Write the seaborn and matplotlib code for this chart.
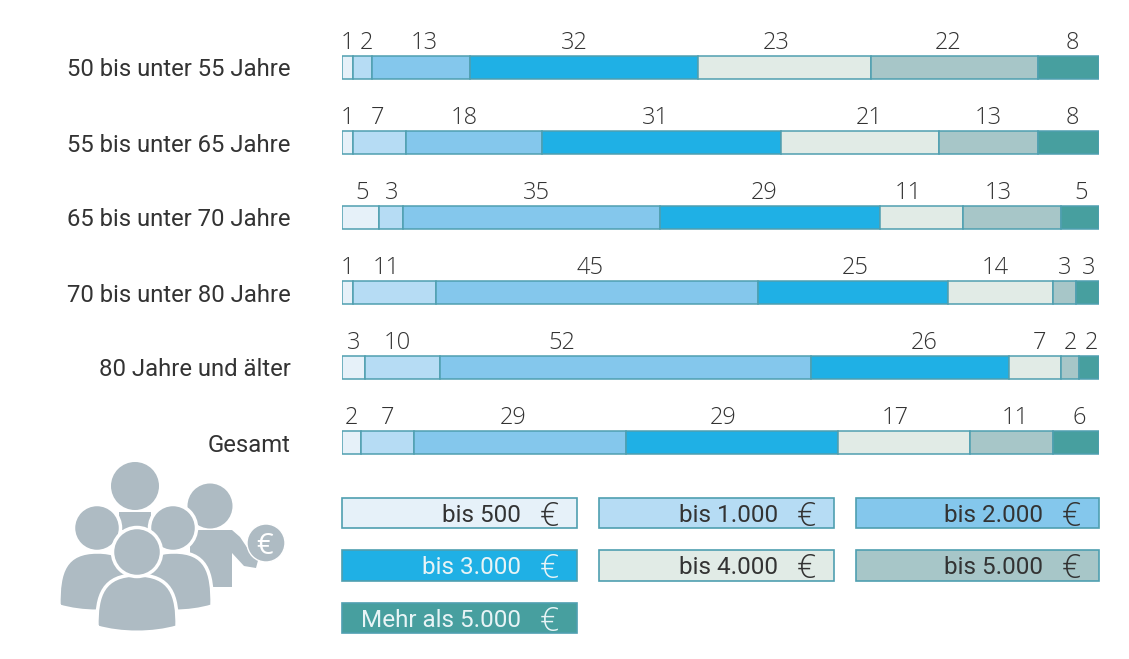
#!/usr/bin/python

import matplotlib
matplotlib.use("Agg")
from matplotlib import pyplot as plt
from matplotlib.patches import Circle, PathPatch, Rectangle, Polygon
from matplotlib.path import Path
import pandas as pd
import seaborn as sns

OUTFILE = "out.png"

groups = ["50 bis unter 55 Jahre", "55 bis unter 65 Jahre", "65 bis unter 70 Jahre",
          "70 bis unter 80 Jahre", "80 Jahre und älter", "Gesamt"]
classes = ["bis 500", "bis 1.000", "bis 2.000", "bis 3.000", "bis 4.000", "bis 5.000", "Mehr als 5.000"]
colors = ["#E6F1F9", "#B6DCF4", "#84C7EC", "#1FB0E5", "#E1EBE6", "#A7C6C8", "#479F9F"]

# printed numbers
printed_500 = [1, 1, 5, 1, 3, 2]
printed_1000 = [2, 7, 3, 11, 10, 7]
printed_2000 = [13, 18, 35, 45, 52, 29]
printed_3000 = [32, 31, 29, 25, 26, 29]
printed_4000 = [23, 21, 11, 14, 7, 17]
printed_5000 = [22, 13, 13, 3, 2, 11]
printed_more = [8, 8, 5, 3, 2, 6]

# segment lengths as drawn, these differ a bit from the printed numbers
drawn_500 = [1.45, 1.45, 4.9, 1.45, 3.05, 2.5]
drawn_1000 = [2.5, 7.0, 3.2, 10.95, 9.9, 7.0]
drawn_2000 = [12.95, 17.95, 33.95, 42.55, 49.0, 28.0]
drawn_3000 = [30.1, 31.55, 29.05, 25.1, 26.15, 28.0]
drawn_4000 = [22.85, 20.85, 10.95, 13.85, 6.85, 17.45]
drawn_5000 = [22.05, 13.1, 12.95, 3.05, 2.4, 10.95]
drawn_more = [8.1, 8.1, 5.05, 3.05, 2.65, 6.1]

printed = [printed_500, printed_1000, printed_2000, printed_3000, printed_4000, printed_5000, printed_more]
drawn = [drawn_500, drawn_1000, drawn_2000, drawn_3000, drawn_4000, drawn_5000, drawn_more]

# number labels are not centred over the segments in the original (pixels, per row)
nudges = [[0, 4, 3, -10, -8, -6, 4],
          [0, -2, -10, -6, 10, 0, 4],
          [2, 0, 5, -6, -13, -14, 1],
          [0, -8, -7, 2, -5, 0, 1],
          [0, -5, -64, 14, 5, 1, 2],
          [0, 0, -7, -9, -9, 4, 3]]

W, H = 1129, 659

sns.set_theme(style="white")
LABEL_FONT = "Roboto"
TEXT = "#333333"
EDGE = "#4F9FB0"


def body(ax, x0, x1, top, bottom, color):
    # square-ish shoulders with a slightly bowed lower edge
    mid = (x0 + x1) / 2
    w = x1 - x0
    verts = [(x0, bottom), (x0 - 0.01 * w, top + 0.25 * w), (x0 + 0.08 * w, top), (mid, top),
             (x1 - 0.08 * w, top), (x1 + 0.01 * w, top + 0.25 * w), (x1, bottom),
             (mid + 0.2 * w, bottom + 7), (mid - 0.2 * w, bottom + 7), (x0, bottom)]
    codes = [Path.MOVETO, Path.CURVE4, Path.CURVE4, Path.CURVE4, Path.CURVE4, Path.CURVE4, Path.CURVE4,
             Path.CURVE4, Path.CURVE4, Path.CURVE4]
    ax.add_patch(PathPatch(Path(verts, codes), facecolor=color, edgecolor="white", lw=2.5))


def person(ax, hx, hy, r, x0, x1, top, bottom, color):
    body(ax, x0, x1, top, bottom, color)
    ax.add_patch(Circle((hx, hy), r, facecolor=color, edgecolor="white", lw=2.5))


def draw_icon(ax):
    c = "#AEBBC3"
    ax.add_patch(Circle((135, 486), 24, facecolor=c, edgecolor="none"))
    ax.add_patch(Polygon([(119, 512), (151, 512), (151, 530), (119, 530)], facecolor=c, edgecolor="none"))
    # man with the coin
    ax.add_patch(Polygon([(190, 530), (232, 530), (240, 537), (254, 558), (260, 553), (256, 568), (244, 566),
                          (232, 553), (232, 587), (216, 587), (190, 587)], facecolor=c, edgecolor="none"))
    ax.add_patch(Circle((210, 506), 22.5, facecolor=c, edgecolor="none"))
    ax.add_patch(Circle((266, 543), 19, facecolor=c, edgecolor="white", lw=1))
    ax.text(265, 543, "€", color="white", fontsize=21, ha="center", va="center_baseline", family="Open Sans")
    person(ax, 173, 528, 23.5, 136, 212, 552, 606, c)
    person(ax, 97, 528, 23.5, 59, 136, 552, 606, c)
    person(ax, 137, 552, 24.5, 97, 177, 575, 627, c)


def draw_legend(ax):
    cols = [(342, 577), (599, 834), (856, 1099)]
    rows = [(498, 528), (550, 581), (603, 633)]
    for i, name in enumerate(classes):
        x0, x1 = cols[i % 3]
        y0, y1 = rows[i // 3]
        ax.add_patch(Rectangle((x0, y0), x1 - x0, y1 - y0, facecolor=colors[i], edgecolor=EDGE, lw=1.2))
        tc = "#E8F4F6" if i in (3, 6) else TEXT
        ax.text(x1 - 56, (y0 + y1) / 2, name, color=tc, fontsize=17.5, ha="right", va="center_baseline",
                family=LABEL_FONT)
        ax.text(x1 - 28, (y0 + y1) / 2, "€", color=tc, fontsize=24, ha="center", va="center_baseline",
                family="Open Sans", fontweight="light")


def plot_bars():
    fig = plt.figure(figsize=(W / 100, H / 100), dpi=100)
    ax = fig.add_axes([342 / W, 1 - 480 / H, (1099 - 342) / W, 450 / H])

    left = [0.0] * len(groups)
    for i, name in enumerate(classes):
        df = pd.DataFrame({"group": groups, "share": drawn[i]})
        sns.barplot(data=df, y="group", x="share", order=groups, left=left, color=colors[i],
                    saturation=1, width=0.307, edgecolor=EDGE, linewidth=1.1, errorbar=None, ax=ax)
        for row, g in enumerate(groups):
            center = left[row] + drawn[i][row] / 2
            ax.annotate(str(printed[i][row]), (center, row), xytext=(nudges[row][i] * 0.72, 9),
                        textcoords="offset points", ha="center", va="bottom", fontsize=17,
                        color=TEXT, family="Open Sans", fontweight="light")
        left = [a + b for a, b in zip(left, drawn[i])]

    ax.set_xlim(0, 100)
    ax.set_xlabel("")
    ax.set_ylabel("")
    ax.set_xticks([])
    ax.tick_params(axis="y", length=0, pad=37)
    for t in ax.get_yticklabels():
        t.set_fontsize(17.2)
        t.set_family(LABEL_FONT)
        t.set_color(TEXT)
    sns.despine(ax=ax, left=True, bottom=True)

    # legend boxes and the icon live on a pixel canvas over the whole figure
    over = fig.add_axes([0, 0, 1, 1])
    over.set_xlim(0, W)
    over.set_ylim(H, 0)
    over.axis("off")
    over.patch.set_alpha(0)
    draw_icon(over)
    draw_legend(over)

    fig.savefig(OUTFILE, dpi=100)


if __name__ == "__main__":
    plot_bars()
